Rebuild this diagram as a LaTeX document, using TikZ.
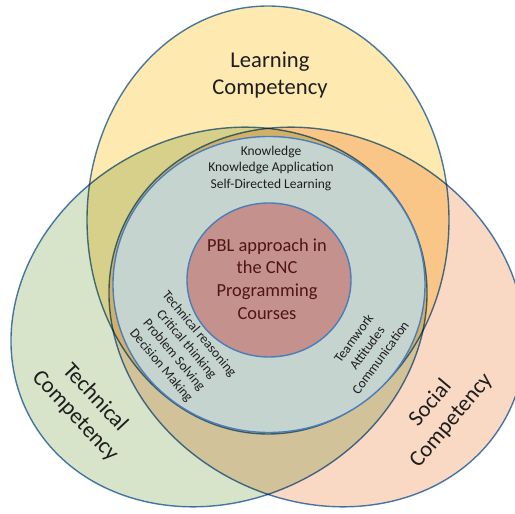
\documentclass[tikz,border=0pt]{standalone}
\usepackage{fontspec}
\setmainfont{Carlito}
\definecolor{edgeblue}{RGB}{74,126,187}
\definecolor{yel}{RGB}{254,233,176}
\definecolor{grn}{RGB}{215,228,201}
\definecolor{org}{RGB}{250,217,196}
\definecolor{innerc}{RGB}{198,212,207}
\definecolor{redc}{RGB}{196,145,140}
\definecolor{redtext}{RGB}{80,20,20}
\definecolor{txt}{RGB}{30,30,30}
\begin{document}
\begin{tikzpicture}[x=1pt,y=1pt,
  ring/.style={draw=edgeblue, line width=1.4pt},
  big/.style={font=\fontsize{22.6}{27}\selectfont, align=center, text=txt, inner sep=0pt},
  small/.style={font=\fontsize{13.5}{16.5}\selectfont, align=center, text=txt, inner sep=0pt},
  core/.style={font=\fontsize{18.4}{22.7}\selectfont, align=center, text=redtext, inner sep=0pt}]
\useasboundingbox (0,0) rectangle (515,514);
\begin{scope}[blend mode=multiply]
  \filldraw[ring, fill=grn, shift={(219,197)}, rotate=27] (0,0) ellipse (214 and 183);
  \filldraw[ring, fill=org, shift={(317,197)}, rotate=-27] (0,0) ellipse (214 and 183);
  \filldraw[ring, fill=yel] (268,294) ellipse (181 and 214);
\end{scope}
\filldraw[ring, fill=innerc] (269,229.5) ellipse (156 and 148);
\filldraw[ring, fill=redc] (269,234) ellipse (82 and 77);

\node[big] (learn) at (270,439) {Learning\\Competency};
\node[big, rotate=-47] (tech) at (85,107) {Technical\\Competency};
\node[big, rotate=50] (social) at (441,102) {Social\\Competency};
\node[small] (know) at (271,346) {Knowledge\\Knowledge Application\\Self-Directed Learning};
\node[small, rotate=-50] (skills) at (180,164) {Technical reasoning\\Critical thinking\\Problem Solving\\Decision Making};
\node[small, rotate=54] (team) at (367,166) {Teamwork\\Attitudes\\Communication};
\node[core] (pbl) at (267,235) {PBL approach in\\the CNC\\Programming\\Courses};
\end{tikzpicture}
\end{document}
